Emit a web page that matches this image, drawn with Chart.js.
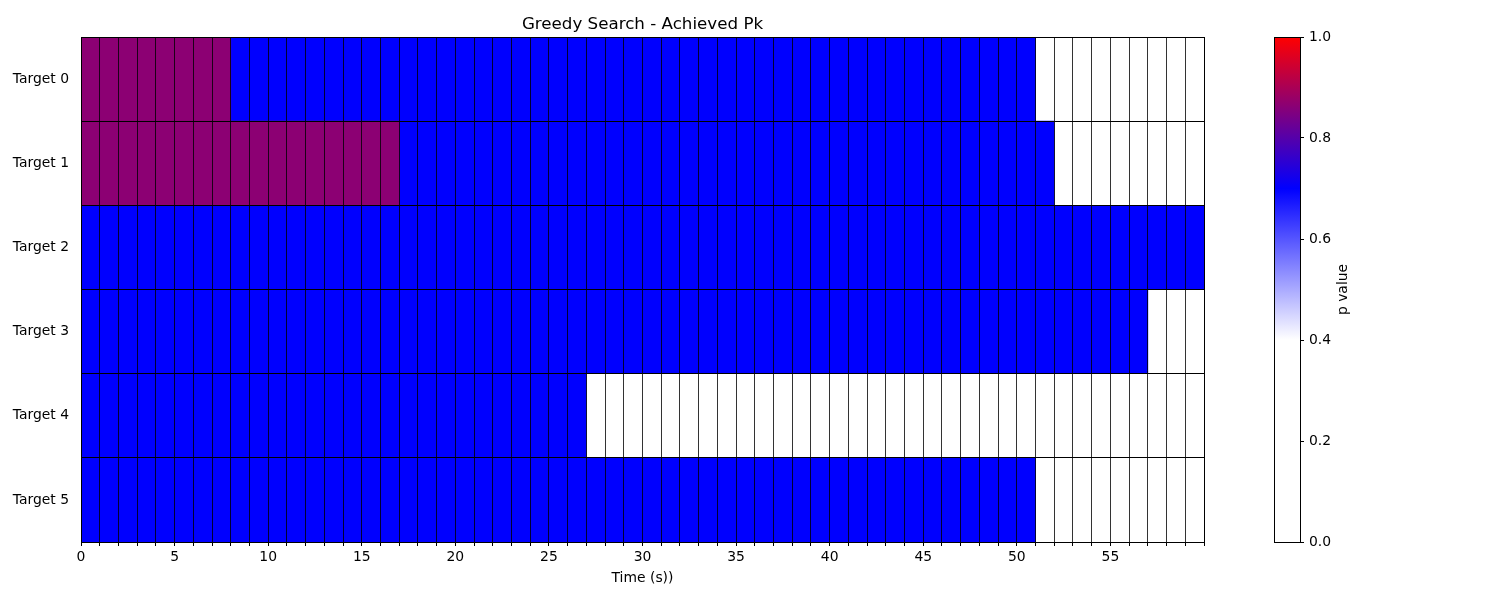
<!DOCTYPE html>
<html><head><meta charset="utf-8">
<script src="https://cdn.jsdelivr.net/npm/chart.js@4/dist/chart.umd.min.js"></script>
<style>
html,body{margin:0;padding:0;background:#fff;overflow:hidden}
#wrap{position:relative;width:1500px;height:600px}
#main{position:absolute;left:0;top:0;width:1500px;height:600px}
#cbar{position:absolute;left:1240px;top:0;width:160px;height:600px}
</style></head><body>
<div id="wrap"><canvas id="main" width="1500" height="600"></canvas><canvas id="cbar" width="160" height="600"></canvas></div>
<script>
// ---- data ----
const targets = ['Target 0', 'Target 1', 'Target 2', 'Target 3', 'Target 4', 'Target 5'];
const xTickLabels = [0, 5, 10, 15, 20, 25, 30, 35, 40, 45, 50, 55];
const nTimes = 60;
const colorbarTicks = [0.0, 0.2, 0.4, 0.6, 0.8, 1.0];
const cmapStops = [0.0, 0.4, 0.7, 1.0];
const cmapColors = [[255,255,255],[255,255,255],[0,0,255],[255,0,0]];

const pTarget0 = [0.865,0.865,0.865,0.865,0.865,0.865,0.865,0.865,0.7,0.7,
  0.7,0.7,0.7,0.7,0.7,0.7,0.7,0.7,0.7,0.7,
  0.7,0.7,0.7,0.7,0.7,0.7,0.7,0.7,0.7,0.7,
  0.7,0.7,0.7,0.7,0.7,0.7,0.7,0.7,0.7,0.7,
  0.7,0.7,0.7,0.7,0.7,0.7,0.7,0.7,0.7,0.7,
  0.7,0,0,0,0,0,0,0,0,0];
const pTarget1 = [0.865,0.865,0.865,0.865,0.865,0.865,0.865,0.865,0.865,0.865,
  0.865,0.865,0.865,0.865,0.865,0.865,0.865,0.7,0.7,0.7,
  0.7,0.7,0.7,0.7,0.7,0.7,0.7,0.7,0.7,0.7,
  0.7,0.7,0.7,0.7,0.7,0.7,0.7,0.7,0.7,0.7,
  0.7,0.7,0.7,0.7,0.7,0.7,0.7,0.7,0.7,0.7,
  0.7,0.7,0,0,0,0,0,0,0,0];
const pTarget2 = [0.7,0.7,0.7,0.7,0.7,0.7,0.7,0.7,0.7,0.7,
  0.7,0.7,0.7,0.7,0.7,0.7,0.7,0.7,0.7,0.7,
  0.7,0.7,0.7,0.7,0.7,0.7,0.7,0.7,0.7,0.7,
  0.7,0.7,0.7,0.7,0.7,0.7,0.7,0.7,0.7,0.7,
  0.7,0.7,0.7,0.7,0.7,0.7,0.7,0.7,0.7,0.7,
  0.7,0.7,0.7,0.7,0.7,0.7,0.7,0.7,0.7,0.7];
const pTarget3 = [0.7,0.7,0.7,0.7,0.7,0.7,0.7,0.7,0.7,0.7,
  0.7,0.7,0.7,0.7,0.7,0.7,0.7,0.7,0.7,0.7,
  0.7,0.7,0.7,0.7,0.7,0.7,0.7,0.7,0.7,0.7,
  0.7,0.7,0.7,0.7,0.7,0.7,0.7,0.7,0.7,0.7,
  0.7,0.7,0.7,0.7,0.7,0.7,0.7,0.7,0.7,0.7,
  0.7,0.7,0.7,0.7,0.7,0.7,0.7,0,0,0];
const pTarget4 = [0.7,0.7,0.7,0.7,0.7,0.7,0.7,0.7,0.7,0.7,
  0.7,0.7,0.7,0.7,0.7,0.7,0.7,0.7,0.7,0.7,
  0.7,0.7,0.7,0.7,0.7,0.7,0.7,0,0,0,
  0,0,0,0,0,0,0,0,0,0,
  0,0,0,0,0,0,0,0,0,0,
  0,0,0,0,0,0,0,0,0,0];
const pTarget5 = [0.7,0.7,0.7,0.7,0.7,0.7,0.7,0.7,0.7,0.7,
  0.7,0.7,0.7,0.7,0.7,0.7,0.7,0.7,0.7,0.7,
  0.7,0.7,0.7,0.7,0.7,0.7,0.7,0.7,0.7,0.7,
  0.7,0.7,0.7,0.7,0.7,0.7,0.7,0.7,0.7,0.7,
  0.7,0.7,0.7,0.7,0.7,0.7,0.7,0.7,0.7,0.7,
  0.7,0,0,0,0,0,0,0,0,0];
const rows = [pTarget0, pTarget1, pTarget2, pTarget3, pTarget4, pTarget5];

// ---- colormap ----
function cmap(v) {
  v = Math.max(0, Math.min(1, v));
  for (let i = 1; i < cmapStops.length; i++) {
    if (v <= cmapStops[i]) {
      const t = (v - cmapStops[i-1]) / (cmapStops[i] - cmapStops[i-1] || 1);
      const a = cmapColors[i-1], b = cmapColors[i];
      const c = a.map((x, k) => Math.round(x + (b[k] - x) * t));
      return `rgb(${c[0]},${c[1]},${c[2]})`;
    }
  }
  const l = cmapColors[cmapColors.length-1];
  return `rgb(${l[0]},${l[1]},${l[2]})`;
}

const FONT = 'DejaVu Sans';
Chart.defaults.font.family = FONT;
Chart.defaults.color = '#000';

const datasets = [];
for (let j = 0; j < nTimes; j++) {
  datasets.push({
    data: rows.map(() => [j, j + 1]),
    backgroundColor: rows.map(r => cmap(r[j])),
    borderWidth: 0,
    grouped: false,
    barPercentage: 1,
    categoryPercentage: 1
  });
}

const EDGE_V = 'rgba(0,0,0,0.8)';
const EDGE_H = '#000';

const framePlugin = {
  id: 'frame',
  beforeDraw(chart) {
    if (chart.titleBlock) {
      chart.titleBlock.left = chart.chartArea.left;
      chart.titleBlock.right = chart.chartArea.right;
    }
  },
  afterDraw(chart) {
    const a = chart.chartArea, ctx = chart.ctx;
    ctx.save();
    ctx.strokeStyle = '#000';
    ctx.lineWidth = 1;
    ctx.strokeRect(Math.round(a.left) + 0.5, Math.round(a.top) + 0.5,
      Math.round(a.right) - Math.round(a.left), Math.round(a.bottom) - Math.round(a.top));
    ctx.restore();
  }
};

new Chart(document.getElementById('main'), {
  type: 'bar',
  data: { labels: targets, datasets },
  options: {
    responsive: false,
    animation: false,
    events: [],
    indexAxis: 'y',
    layout: { padding: { left: 0, right: 296, top: 0, bottom: 0 } },
    plugins: {
      legend: { display: false },
      tooltip: { enabled: false },
      title: {
        display: true,
        text: 'Greedy Search - Achieved Pk',
        color: '#000',
        font: { family: FONT, size: 16.7, weight: 'normal', lineHeight: 1.2 },
        padding: { top: 15, bottom: 2 }
      }
    },
    scales: {
      x: {
        type: 'linear',
        min: 0, max: nTimes,
        afterFit(s) { s.height = 58; },
        grid: { z: 1, drawOnChartArea: true, drawTicks: true, tickLength: 4, color: EDGE_V, lineWidth: 1,
          tickColor: '#000', tickWidth: 1 },
        border: { display: false },
        ticks: {
          stepSize: 1, autoSkip: false, maxRotation: 0, padding: 3,
          font: { family: FONT, size: 13.9 }, color: '#000',
          callback: (v) => xTickLabels.includes(v) ? String(v) : ''
        },
        title: { display: true, text: 'Time (s))', color: '#000',
          font: { family: FONT, size: 13.9 }, padding: { top: 0, bottom: 13.5 } }
      },
      y: {
        type: 'category',
        afterFit(s) { s.width = 81; },
        grid: { z: 1, display: true, drawOnChartArea: true, drawTicks: false, offset: true, color: EDGE_H, lineWidth: 1 },
        border: { display: false },
        ticks: { padding: 12, font: { family: FONT, size: 13.9 }, color: '#000' }
      }
    }
  },
  plugins: [framePlugin]
});

// ---- colorbar ----
const cbarPlugin = {
  id: 'cbarFrame',
  afterDraw(chart) {
    const a = chart.chartArea, ctx = chart.ctx;
    ctx.save();
    ctx.strokeStyle = '#000';
    ctx.lineWidth = 1;
    ctx.strokeRect(Math.round(a.left) + 0.5, Math.round(a.top) + 0.5,
      Math.round(a.right) - Math.round(a.left), Math.round(a.bottom) - Math.round(a.top));
    ctx.translate(103, (a.top + a.bottom) / 2);
    ctx.rotate(-Math.PI / 2);
    ctx.fillStyle = '#000';
    ctx.font = `13.9px "${FONT}"`;
    ctx.textAlign = 'center';
    ctx.textBaseline = 'middle';
    ctx.fillText('p value', 0, 0);
    ctx.restore();
  }
};

new Chart(document.getElementById('cbar'), {
  type: 'bar',
  data: {
    labels: [''],
    datasets: [{
      data: [[0, 1]],
      borderWidth: 0,
      barPercentage: 1,
      categoryPercentage: 1,
      backgroundColor: (ctx) => {
        const chart = ctx.chart, a = chart.chartArea, ys = chart.scales.y;
        if (!a || !ys) return '#fff';
        const g = chart.ctx.createLinearGradient(0, ys.getPixelForValue(0), 0, ys.getPixelForValue(1));
        cmapStops.forEach((s, i) => {
          const c = cmapColors[i];
          g.addColorStop(s, `rgb(${c[0]},${c[1]},${c[2]})`);
        });
        return g;
      }
    }]
  },
  options: {
    responsive: false,
    animation: false,
    events: [],
    layout: { padding: { left: 34, right: 0, top: 37, bottom: 58 } },
    plugins: { legend: { display: false }, tooltip: { enabled: false } },
    scales: {
      x: { display: false, offset: true },
      y: {
        position: 'right',
        min: 0, max: 1,
        afterFit(s) { s.width = 100; },
        afterBuildTicks(s) { s.ticks = colorbarTicks.map(v => ({ value: v })); },
        grid: { drawOnChartArea: false, drawTicks: true, tickLength: 4, color: '#000' },
        border: { display: false },
        ticks: {
          padding: 5, font: { family: FONT, size: 13.9 }, color: '#000',
          callback: (v) => Number(v).toFixed(1)
        }
      }
    }
  },
  plugins: [cbarPlugin]
});
</script>
</body></html>
